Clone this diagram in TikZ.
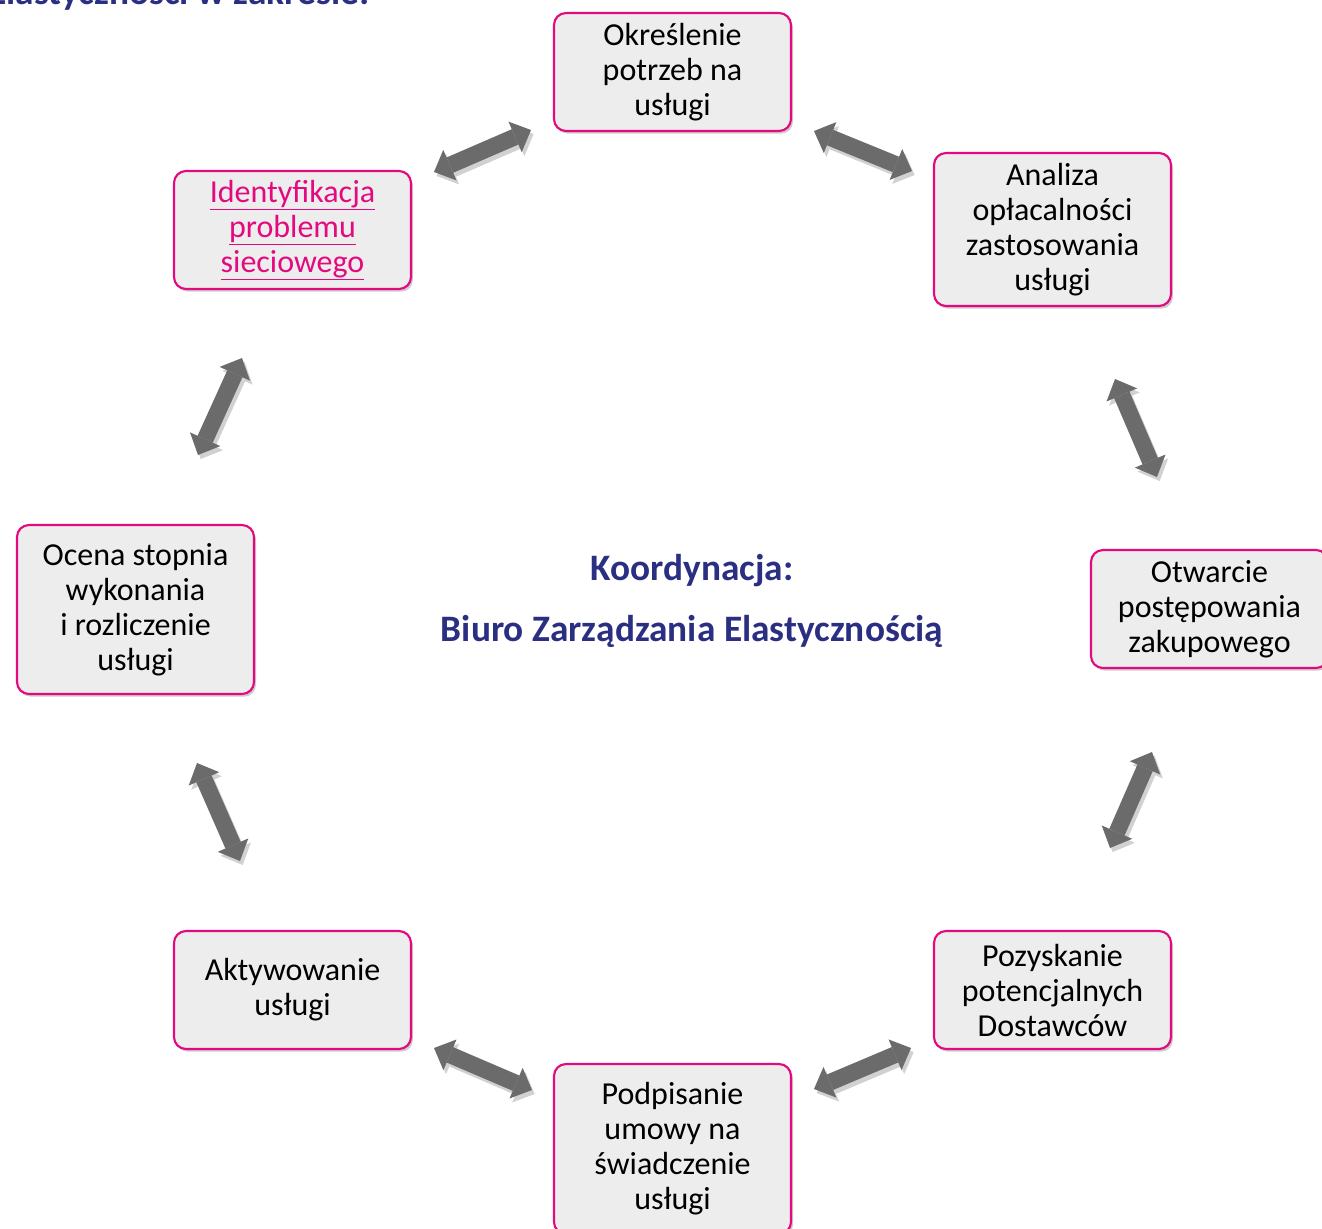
\documentclass[tikz,border=0pt]{standalone}
\usepackage{fontspec}
\setmainfont{Carlito}
\usetikzlibrary{arrows.meta,shadows}
\definecolor{ramka}{HTML}{E5097F}
\definecolor{tlo}{HTML}{EDEDED}
\definecolor{granat}{HTML}{2B2F82}
\definecolor{szary}{HTML}{6B6B6B}
\begin{document}
\begin{tikzpicture}[x=0.75pt,y=-0.75pt,
            etap/.style = {draw=ramka, line width=1.6pt, fill=tlo,
                        rounded corners=9pt, inner sep=0pt,
                        minimum width=177.75pt, minimum height=88.5pt,
                        align=center, font=\fontsize{24}{26.25}\selectfont,
                        drop shadow={shadow xshift=1.5pt, shadow yshift=-2pt,
                                     fill=black!40}},
            strz/.style = {draw=szary, line width=12.5pt,
                        >={Triangle[length=13pt, width=25pt, line width=0pt]}, <->},
            cien/.style = {strz, draw=black!18,
                        transform canvas={shift={(2pt,-3pt)}}},
            tytul/.style = {text=granat, font=\bfseries\fontsize{28}{30}\selectfont}]
            \clip (0,0) rectangle (1322,1229);
            % Title (cut off at the top)
            \node[tytul, anchor=base east] (naglowek) at (374,4) {Elastyczności w zakresie:};
            % Stages
            \node[etap] (okr) at (672.5,72) {Określenie\\potrzeb na\\usługi};
            \node[etap, minimum height=114.75pt] (anal) at (1052.5,229.5)
                {Analiza\\opłacalności\\zastosowania\\usługi};
            \node[etap] (otw) at (1209.5,609) {Otwarcie\\postępowania\\zakupowego};
            \node[etap] (pozy) at (1052.5,990) {Pozyskanie\\potencjalnych\\Dostawców};
            \node[etap, minimum height=127.5pt] (podp) at (672.5,1149)
                {Podpisanie\\umowy na\\świadczenie\\usługi};
            \node[etap] (akt) at (292.5,990) {Aktywowanie\\usługi};
            \node[etap, minimum height=126.75pt] (ocena) at (135.5,609.5)
                {Ocena stopnia\\wykonania\\i rozliczenie\\usługi};
            \node[etap, text=ramka] (ident) at (292.5,230)
                {\underline{Identyfikacja}\\\underline{problemu}\\\underline{sieciowego}};
            % Centre label
            \node[tytul] (koord) at (692,571) {Koordynacja:};
            \node[tytul] (biuro) at (692,631) {Biuro Zarządzania Elastycznością};
            % Arrow ends
            \coordinate (s1) at (434,172);   \coordinate (e1) at (531,130);
            \coordinate (s2) at (814,131);   \coordinate (e2) at (912,171);
            \coordinate (s3) at (1115,379);  \coordinate (e3) at (1157,477);
            \coordinate (s4) at (1152,752);  \coordinate (e4) at (1110,848);
            \coordinate (s5) at (911,1048);  \coordinate (e5) at (814,1089);
            \coordinate (s6) at (434,1048);  \coordinate (e6) at (532,1090);
            \coordinate (s7) at (197,763);   \coordinate (e7) at (240,861);
            \coordinate (s8) at (242,358);   \coordinate (e8) at (198,455);
            % Double arrows
            \foreach \i in {1,...,8}{
                \draw[cien] (s\i) -- (e\i);
                \draw[strz] (s\i) -- (e\i);
            }
        \end{tikzpicture}
\end{document}
